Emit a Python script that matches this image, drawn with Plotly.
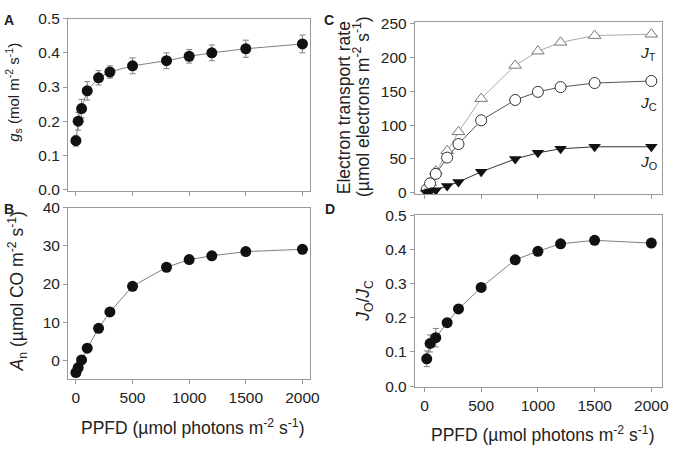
import plotly.graph_objects as go

# PPFD levels (umol photons m-2 s-1)
ppfd_ab = [0, 20, 50, 100, 200, 300, 500, 800, 1000, 1200, 1500, 2000]
ppfd_cd = [20, 50, 100, 200, 300, 500, 800, 1000, 1200, 1500, 2000]

# A: stomatal conductance
gs = [0.143, 0.200, 0.237, 0.289, 0.327, 0.344, 0.362, 0.377, 0.390, 0.400, 0.412, 0.426]
gs_err = [0.016, 0.026, 0.027, 0.027, 0.021, 0.018, 0.023, 0.023, 0.020, 0.023, 0.025, 0.026]

# B: net assimilation
an = [-3.2, -1.9, 0.1, 3.2, 8.4, 12.7, 19.4, 24.4, 26.4, 27.4, 28.5, 29.1]

# C: electron transport rates
jt = [6, 15, 32, 62, 90, 139, 188, 209, 222, 232, 234]
jc = [5, 14, 28, 52, 72, 107, 137, 149, 156, 162, 165]
jo = [0.5, 2, 4, 10, 16, 31, 50, 59, 65, 68, 68]

# D: Jo/Jc
ratio = [0.080, 0.125, 0.142, 0.186, 0.226, 0.289, 0.370, 0.395, 0.417, 0.427, 0.419]
ratio_err = [0.023, 0.025, 0.027, 0.006, 0.005, 0.005, 0.005, 0.005, 0.005, 0.005, 0.005]

W, H = 680, 453
FONT = 'Arial, Liberation Sans, sans-serif'
TXT = '#222222'
AX = '#999999'


def dom_x(a, b):
    return [a / W, b / W]


def dom_y(top, bottom):
    return [1 - bottom / H, 1 - top / H]


fig = go.Figure()

# panel A
fig.add_trace(go.Scatter(
    x=ppfd_ab, y=gs, mode='lines+markers', xaxis='x', yaxis='y',
    line=dict(color='#808080', width=1),
    marker=dict(color='#111111', size=11),
    error_y=dict(type='data', array=gs_err, color='#808080', thickness=1, width=3),
))

# panel B
fig.add_trace(go.Scatter(
    x=ppfd_ab, y=an, mode='lines+markers', xaxis='x2', yaxis='y2',
    line=dict(color='#808080', width=1),
    marker=dict(color='#111111', size=11),
))

# panel C
fig.add_trace(go.Scatter(
    x=ppfd_cd, y=jt, mode='lines+markers', xaxis='x3', yaxis='y3',
    line=dict(color='#aaaaaa', width=1),
    marker=dict(symbol='triangle-up', color='white', size=11, line=dict(color='#777777', width=1)),
))
fig.add_trace(go.Scatter(
    x=ppfd_cd, y=jc, mode='lines+markers', xaxis='x3', yaxis='y3',
    line=dict(color='#555555', width=1),
    marker=dict(symbol='circle', color='white', size=11, line=dict(color='#333333', width=1)),
))
fig.add_trace(go.Scatter(
    x=ppfd_cd, y=jo, mode='lines+markers', xaxis='x3', yaxis='y3',
    line=dict(color='#333333', width=1),
    marker=dict(symbol='triangle-down', color='#111111', size=11),
))

# panel D
fig.add_trace(go.Scatter(
    x=ppfd_cd, y=ratio, mode='lines+markers', xaxis='x4', yaxis='y4',
    line=dict(color='#808080', width=1),
    marker=dict(color='#111111', size=11),
    error_y=dict(type='data', array=ratio_err, color='#808080', thickness=1, width=3),
))

common = dict(showline=True, linecolor=AX, linewidth=1, mirror=True,
              ticks='outside', ticklen=4, tickcolor=AX, showgrid=False, zeroline=False,
              tickfont=dict(size=15.5, color=TXT, family=FONT))
xticks = dict(tickvals=[0, 500, 1000, 1500, 2000])

fig.update_layout(
    width=W, height=H,
    margin=dict(l=0, r=0, t=0, b=0),
    paper_bgcolor='white', plot_bgcolor='white',
    showlegend=False,
    font=dict(family=FONT, color=TXT),
    xaxis=dict(domain=dom_x(69, 315), range=[-70, 2070], anchor='y', showticklabels=False, **xticks, **common),
    yaxis=dict(domain=dom_y(10, 189), range=[-0.005, 0.5], anchor='x', tickvals=[0, 0.1, 0.2, 0.3, 0.4, 0.5],
               tickformat='.1f', **common),
    xaxis2=dict(domain=dom_x(69, 315), range=[-70, 2070], anchor='y2', **xticks, **common),
    yaxis2=dict(domain=dom_y(206, 384), range=[-5, 40], anchor='x2', tickvals=[0, 10, 20, 30, 40], **common),
    xaxis3=dict(domain=dom_x(421, 672), range=[-85, 2095], anchor='y3', showticklabels=False, **xticks, **common),
    yaxis3=dict(domain=dom_y(13.5, 192), range=[-2, 252], anchor='x3', tickvals=[0, 50, 100, 150, 200, 250], **common),
    xaxis4=dict(domain=dom_x(421, 672), range=[-85, 2095], anchor='y4', **xticks, **common),
    yaxis4=dict(domain=dom_y(214, 392), range=[-0.003, 0.5], anchor='x4', tickvals=[0, 0.1, 0.2, 0.3, 0.4, 0.5],
                tickformat='.1f', **common),
)


def note(text, x, y, size=17.5, angle=0, bold=False):
    if bold:
        text = '<b>' + text + '</b>'
    fig.add_annotation(text=text, x=x / W, y=1 - y / H, xref='paper', yref='paper',
                       showarrow=False, textangle=angle, xanchor='center', yanchor='middle',
                       font=dict(size=size, color=TXT, family=FONT))


# panel letters
note('A', 9, 11, size=14, bold=True)
note('B', 9, 207, size=14, bold=True)
note('C', 334, 11, size=14, bold=True)
note('D', 335, 207, size=14, bold=True)

# axis titles
note('<i>g</i><sub>s</sub> (mol m<sup>-2</sup> s<sup>-1</sup>)', 14, 86, size=15, angle=-90)
note('<i>A</i><sub>n</sub> (µmol CO m<sup>-2</sup> s<sup>-1</sup>)', 18, 293, angle=-90)
note('Electron transport rate', 350, 102, angle=-90)
note('(µmol electrons m<sup>-2</sup> s<sup>-1</sup>)', 367, 101, angle=-90)
note('<i>J</i><sub>O</sub>/<i>J</i><sub>C</sub>', 370, 303, angle=-90)
note('PPFD (µmol photons m<sup>-2</sup> s<sup>-1</sup>)', 196, 433)
note('PPFD (µmol photons m<sup>-2</sup> s<sup>-1</sup>)', 551, 441)

# series labels in C
note('<i>J</i><sub>T</sub>', 658, 46, size=15.5)
note('<i>J</i><sub>C</sub>', 658, 98, size=15.5)
note('<i>J</i><sub>O</sub>', 658, 159, size=15.5)

# drop the default page margin so the figure sits at the window's corner
fig.write_html("out.html", config={'displayModeBar': False},
               post_script="document.body.style.margin='0';")
